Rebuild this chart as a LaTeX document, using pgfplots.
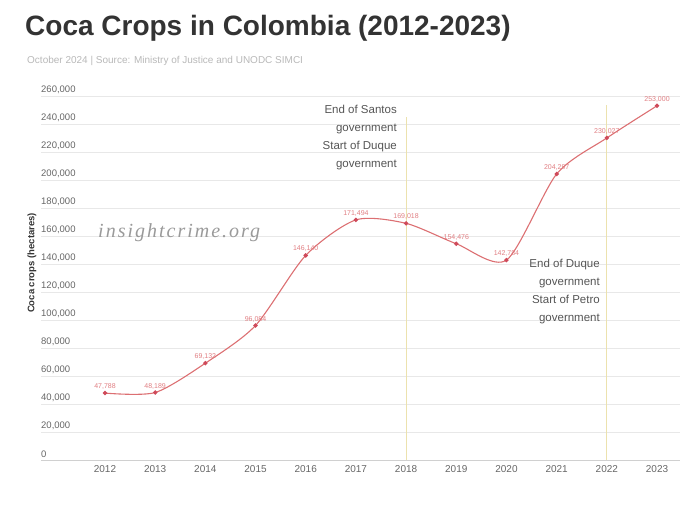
\documentclass[border=0pt]{standalone}
\usepackage{fontspec}
\setmainfont{Liberation Sans}
\newfontfamily\wmfont[LetterSpace=10]{Liberation Serif}
\usepackage{pgfplots}
\pgfplotsset{compat=1.18}

\definecolor{titlecol}{HTML}{333333}
\definecolor{subcol}{HTML}{B8B8B8}
\definecolor{tickcol}{HTML}{666666}
\definecolor{notecol}{HTML}{555555}
\definecolor{gridcol}{HTML}{E8E8E8}
\definecolor{basecol}{HTML}{D0D0D0}
\definecolor{linecol}{HTML}{DC6F72}
\definecolor{markcol}{HTML}{CF4A5A}
\definecolor{labcol}{HTML}{E07E82}
\definecolor{vlinecol}{HTML}{ECE2AE}
\definecolor{wmcol}{HTML}{9A9A9A}

\begin{document}
\begin{tikzpicture}[x=1pt,y=1pt]
\useasboundingbox (0,0) rectangle (680,513);

% heading
\node[anchor=base west, inner sep=0, text=titlecol, font=\fontsize{28}{32}\selectfont\bfseries]
  at (25,477) {Coca Crops in Colombia (2012-2023)};
\node[anchor=base west, inner sep=0, text=subcol, font=\fontsize{10}{12}\selectfont]
  at (27,449) {October 2024 | Source: Ministry of Justice and UNODC SIMCI};

\begin{axis}[
  at={(41pt,53pt)}, anchor=south west,
  scale only axis, width=639pt, height=364pt,
  xmin=2010.725, xmax=2023.458,
  ymin=0, ymax=260000,
  axis x line*=bottom, axis y line*=left,
  x axis line style={draw=basecol, line width=0.8pt},
  y axis line style={draw=none},
  major tick length=0pt,
  xtick={2012,2013,...,2023},
  ytick={0,20000,...,260000},
  ymajorgrids, grid style={draw=gridcol, line width=0.8pt},
  scaled y ticks=false,
  /pgf/number format/assume math mode=true,
  xticklabel style={/pgf/number format/1000 sep={}, text=tickcol,
    font=\fontsize{10}{12}\selectfont, yshift=-2pt},
  yticklabel style={/pgf/number format/.cd, fixed, 1000 sep={,},
    /tikz/.cd, anchor=south west, inner sep=0pt, yshift=2.5pt, text=tickcol,
    font=\fontsize{9.5}{11}\selectfont},
  clip=false,
]
% government transitions
\addplot[vlinecol, line width=0.9pt] coordinates {(2018,0) (2018,245000)};
\addplot[vlinecol, line width=0.9pt] coordinates {(2022,0) (2022,253600)};

% coca cultivation, hectares
\addplot[smooth, tension=0.45, linecol, line width=1.1pt,
  mark=*, mark size=1.6pt, mark options={fill=markcol, draw=markcol},
  point meta=y,
  nodes near coords={\pgfmathprintnumber[fixed, 1000 sep={,}]{\pgfplotspointmeta}},
  every node near coord/.append style={font=\fontsize{7}{8}\selectfont, text=labcol,
    anchor=south, inner sep=0pt, yshift=3pt}]
  table {
  year hectares
  2012 47788
  2013 48189
  2014 69132
  2015 96084
  2016 146140
  2017 171494
  2018 169018
  2019 154476
  2020 142784
  2021 204297
  2022 230027
  2023 253000
  };
\end{axis}

% axis title
\node[rotate=90, text=titlecol, font=\fontsize{9.5}{11}\selectfont\bfseries]
  at (32,250) {Coca crops (hectares)};

% notes on the transitions
\begin{scope}[every node/.style={anchor=base east, inner sep=0, text=notecol,
    font=\fontsize{11.5}{13}\selectfont}]
\node at (397,399) {End of Santos};
\node at (397,381) {government};
\node at (397,363) {Start of Duque};
\node at (397,345) {government};
\node at (600,245) {End of Duque};
\node at (600,227) {government};
\node at (600,209) {Start of Petro};
\node at (600,191) {government};
\end{scope}

% watermark
\node[anchor=base west, inner sep=0, text=wmcol, font=\fontsize{20}{22}\wmfont\itshape]
  at (98,275) {insightcrime.org};
\end{tikzpicture}
\end{document}
